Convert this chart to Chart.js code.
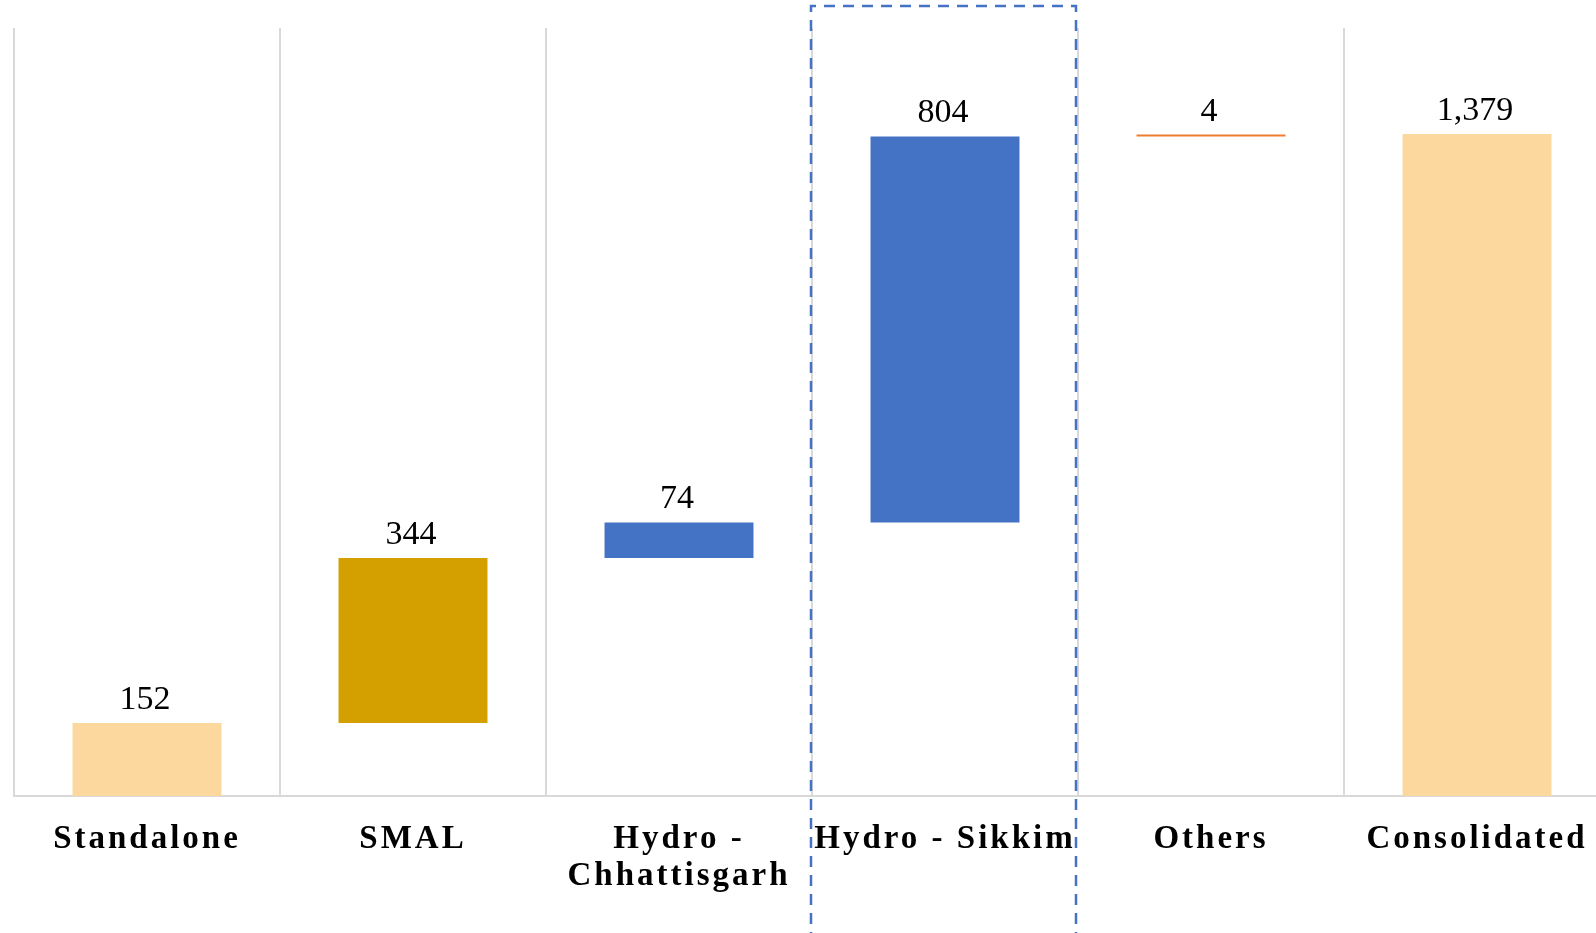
<!DOCTYPE html>
<html>
<head>
<meta charset="utf-8">
<script src="https://cdn.jsdelivr.net/npm/chart.js@4.4.1/dist/chart.umd.min.js"></script>
<style>
  html, body { margin: 0; padding: 0; background: #fff; overflow: hidden; }
  #wrap { width: 1596px; height: 933px; overflow: hidden; }
</style>
</head>
<body>
<div id="wrap"><canvas id="chart" width="1612" height="933"></canvas></div>
<script>
// Waterfall data (INR crore)
const categories = ['Standalone', 'SMAL', ['Hydro -', 'Chhattisgarh'], 'Hydro - Sikkim', 'Others', 'Consolidated'];
const values = [152, 344, 74, 804, 4, 1379];
const isTotal = [true, false, false, false, false, true];
const barColors = ['#FDD89E', '#D4A000', '#4472C4', '#4472C4', '#ED7D31', '#FDD89E'];
const highlightIndex = 3;

// floating ranges built from the running sum
let running = 0;
const ranges = values.map((v, i) => {
    if (isTotal[i]) {
        running = v;
        return [0, v];
    }
    const start = running;
    running += v;
    return [start, running];
});

const labelFont = '34px "Liberation Serif", serif';

// value labels above each bar
const valueLabels = {
    id: 'valueLabels',
    afterDatasetsDraw(chart) {
        const ctx = chart.ctx;
        const meta = chart.getDatasetMeta(0);
        ctx.save();
        ctx.letterSpacing = '0px';
        ctx.font = labelFont;
        ctx.fillStyle = '#000';
        ctx.textAlign = 'center';
        ctx.textBaseline = 'alphabetic';
        meta.data.forEach((bar, i) => {
            const top = Math.min(bar.y, bar.base);
            ctx.fillText(values[i].toLocaleString('en-US'), bar.x - 2, top - 14);
        });
        ctx.restore();
    }
};

// dashed box around the highlighted category
const highlightBox = {
    id: 'highlightBox',
    afterDraw(chart) {
        const ctx = chart.ctx;
        const x = chart.scales.x;
        const half = (x.getPixelForValue(1) - x.getPixelForValue(0)) / 2;
        const cx = x.getPixelForValue(highlightIndex);
        const left = cx - half - 1;
        const right = cx + half - 2;
        const top = chart.chartArea.top - 22;
        const bottom = chart.height + 10;
        ctx.save();
        ctx.letterSpacing = '0px';
        ctx.strokeStyle = '#4472C4';
        ctx.lineWidth = 2.5;
        ctx.setLineDash([11, 8]);
        ctx.beginPath();
        ctx.moveTo(left, bottom);
        ctx.lineTo(left, top);
        ctx.lineTo(right, top);
        ctx.lineTo(right, bottom);
        ctx.stroke();
        ctx.restore();
    }
};

// spaced-out axis labels
const spacing = {
    id: 'spacing',
    beforeDraw(chart) {
        chart.ctx.letterSpacing = '3px';
    }
};

new Chart(document.getElementById('chart'), {
    type: 'bar',
    data: {
        labels: categories,
        datasets: [{
            data: ranges,
            backgroundColor: barColors,
            borderWidth: 0,
            barPercentage: 0.56,
            categoryPercentage: 1.0
        }]
    },
    options: {
        responsive: false,
        animation: false,
        devicePixelRatio: 1,
        layout: {
            padding: { left: 14, right: 2, top: 28, bottom: 0 }
        },
        plugins: {
            legend: { display: false },
            tooltip: { enabled: false }
        },
        scales: {
            x: {
                grid: {
                    color: '#D9D9D9',
                    lineWidth: 2,
                    drawTicks: false,
                    offset: true
                },
                border: { display: true, color: '#D9D9D9', width: 2 },
                ticks: {
                    color: '#000',
                    font: { family: '"Liberation Serif", serif', size: 33, weight: 'bold', lineHeight: 1.12 },
                    padding: 25,
                    maxRotation: 0,
                    minRotation: 0,
                    autoSkip: false
                },
                afterFit(scale) {
                    scale.height = 137;
                }
            },
            y: {
                display: false,
                min: 0,
                max: 1600
            }
        }
    },
    plugins: [spacing, valueLabels, highlightBox]
});
</script>
</body>
</html>
